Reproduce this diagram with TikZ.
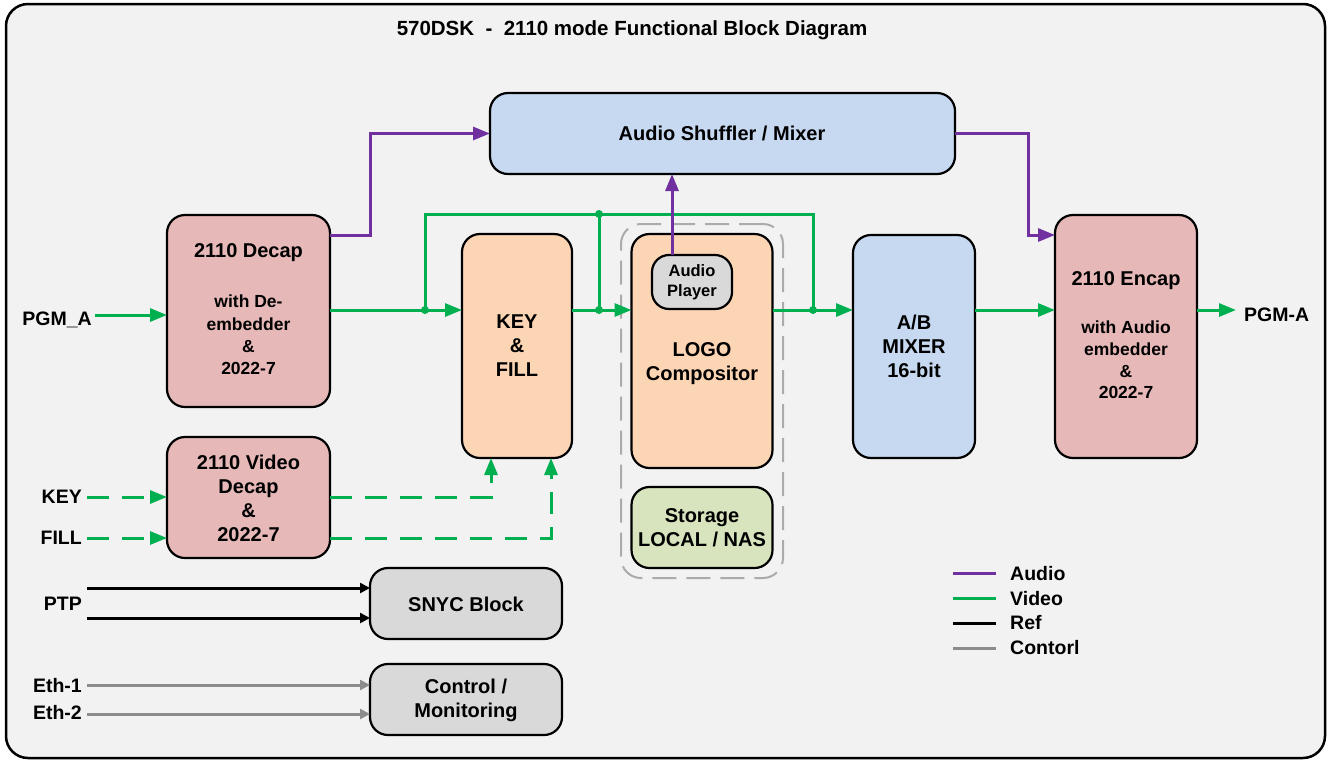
\documentclass[tikz,border=0pt]{standalone}
\usepackage{fontspec}
\setmainfont{Liberation Sans}
\usetikzlibrary{arrows.meta}
\definecolor{bg}{HTML}{F2F2F2}
\definecolor{vgreen}{HTML}{00B050}
\definecolor{apurple}{HTML}{7030A0}
\definecolor{ctrlgray}{HTML}{8C8C8C}
\definecolor{decapfill}{HTML}{E6B9B8}
\definecolor{peachfill}{HTML}{FCD5B5}
\definecolor{bluefill}{HTML}{C6D9F1}
\definecolor{greenfill}{HTML}{D7E4BD}
\definecolor{grayfill}{HTML}{D9D9D9}
\definecolor{grpgray}{HTML}{ABABAB}
\tikzset{
  box/.style={draw=black, line width=2.2pt, rounded corners=18pt, inner sep=0pt, outer sep=0pt},
  tbig/.style={font=\fontsize{20}{24}\selectfont\bfseries, align=center, inner sep=0pt},
  tsmall/.style={font=\fontsize{17.5}{22.3}\selectfont\bfseries, align=center, inner sep=0pt},
  tlab/.style={font=\fontsize{19.5}{22}\selectfont\bfseries, inner sep=0pt},
  video/.style={draw=vgreen, line width=3pt},
  vdash/.style={video, dash pattern=on 22pt off 13pt},
  audio/.style={draw=apurple, line width=3pt},
  refl/.style={draw=black, line width=3pt},
  ctrl/.style={draw=ctrlgray, line width=3pt},
  garrow/.style={-{Triangle[length=17pt,width=13pt]}},
  sarrow/.style={-{Triangle[length=10pt,width=10pt]}},
  dot/.style={circle, fill=vgreen, inner sep=0pt, minimum size=8pt},
}
\begin{document}
\begin{tikzpicture}[x=1pt,y=-1pt]
\useasboundingbox (0,0) rectangle (1327,761);
\draw[line width=2.5pt, fill=bg, rounded corners=22pt] (6,4) rectangle (1325,758);

\node[tbig, font=\fontsize{20.5}{24}\selectfont\bfseries] (title) at (632,30) {570DSK\ \ -\ \ 2110 mode Functional Block Diagram};

% dashed group
\node[draw=grpgray, line width=2pt, dash pattern=on 24pt off 10pt, rounded corners=20pt, minimum width=162pt, minimum height=354pt, inner sep=0pt] (grp) at (702,401) {};

% boxes
\node[box, fill=bluefill, minimum width=465pt, minimum height=81pt] (shuf) at (722.5,133.5) {};
\node[tbig] (shufT) at (722,133) {Audio Shuffler / Mixer};

\node[box, fill=decapfill, minimum width=163pt, minimum height=192pt] (decap) at (248.5,311) {};
\node[tbig] (decapT) at (248.5,253) {2110 Decap};
\node[tsmall] (decapS) at (248.5,335) {with De-\\embedder\\\&\\2022-7};

\node[box, fill=decapfill, minimum width=163pt, minimum height=121pt] (vdec) at (248.5,497.5) {};
\node[tbig] (vdecT) at (248.5,498) {2110 Video\\Decap\\\&\\2022-7};

\node[box, fill=peachfill, minimum width=110pt, minimum height=224pt] (kf) at (517,346) {};
\node[tbig] (kfT) at (517,346) {KEY\\\&\\FILL};

\node[box, fill=peachfill, minimum width=141pt, minimum height=234pt] (logo) at (702,351) {};
\node[tbig] (logoT) at (702,364) {LOGO\\Compositor};

\node[box, fill=grayfill, minimum width=80pt, minimum height=54pt, rounded corners=17pt] (ap) at (692,282) {};
\node[font=\fontsize{16.5}{20}\selectfont\bfseries, align=center, inner sep=0pt] (apT) at (692,282) {Audio\\Player};

\node[box, fill=greenfill, minimum width=141pt, minimum height=81pt] (stor) at (702,527.5) {};
\node[tbig] (storT) at (702,528) {Storage\\LOCAL / NAS};

\node[box, fill=bluefill, minimum width=122pt, minimum height=223pt] (mix) at (914,346.5) {};
\node[tbig] (mixT) at (914,346) {A/B\\MIXER\\16-bit};

\node[box, fill=decapfill, minimum width=142pt, minimum height=243pt] (encap) at (1126,336.5) {};
\node[tbig] (encapT) at (1126,281) {2110 Encap};
\node[tsmall, font=\fontsize{17.5}{21.7}\selectfont\bfseries] (encapS) at (1126,360) {with Audio\\embedder\\\&\\2022-7};

\node[box, fill=grayfill, minimum width=192pt, minimum height=71pt] (sync) at (466,603.5) {};
\node[tbig] (syncT) at (466,604) {SNYC Block};

\node[box, fill=grayfill, minimum width=192pt, minimum height=71pt] (ctl) at (466,699.5) {};
\node[tbig] (ctlT) at (466,700) {Control /\\Monitoring};

% outer labels
\node[tlab, anchor=east] (pgmaL) at (92,320) {PGM\_A};
\node[tlab, anchor=east] (keyL) at (82,497) {KEY};
\node[tlab, anchor=east] (fillL) at (82,538) {FILL};
\node[tlab, anchor=east] (ptpL) at (82,604) {PTP};
\node[tlab, anchor=east] (eth1L) at (82,686) {Eth-1};
\node[tlab, anchor=east] (eth2L) at (82,713) {Eth-2};
\node[tlab, anchor=west] (pgmoL) at (1244,315) {PGM-A};

% coordinates
\coordinate (row) at (0,310);
\coordinate (pgmin) at (95,315);
\coordinate (pgmout) at (1236,310);
\coordinate (j1) at (425,310);
\coordinate (j2) at (599,310);
\coordinate (j3) at (813,310);
\coordinate (t2) at (599,214);
\coordinate (keyin) at (87,497);
\coordinate (fillin) at (87,538);
\coordinate (ptp1) at (87,588);
\coordinate (ptp2) at (87,618);
\coordinate (eth1) at (87,685);
\coordinate (eth2) at (87,714);

% video
\draw[video, garrow] (pgmin) -- (pgmin -| decap.west);
\draw[video, garrow] (decap.east |- row) -- (kf.west |- row);
\draw[video] (j1) |- (t2) -| (j3);
\draw[video] (t2) -- (j2);
\draw[video, garrow] (kf.east |- row) -- (logo.west |- row);
\draw[video, garrow] (logo.east |- row) -- (mix.west |- row);
\draw[video, garrow] (mix.east |- row) -- (encap.west |- row);
\draw[video, garrow] (encap.east |- row) -- (pgmout);
\node[dot] (d1) at (j1) {};
\node[dot] (d2) at (j2) {};
\node[dot] (d3) at (j3) {};
\node[dot] (d4) at (t2) {};

% dashed video
\draw[vdash, garrow] (keyin) -- (keyin -| vdec.west);
\draw[vdash, garrow] (fillin) -- (fillin -| vdec.west);
\draw[vdash, garrow] (vdec.east |- keyin) -| ([xshift=-26pt]kf.south);
\draw[vdash, garrow] (vdec.east |- fillin) -| ([xshift=34pt]kf.south);

% audio
\draw[audio, garrow] ([yshift=76pt]decap.east) -- ++(40,0) |- (shuf.west);
\draw[audio, garrow] (shuf.east) -- ++(73,0) |- ([yshift=101.5pt]encap.west);
\draw[audio, garrow] ([xshift=-20pt]ap.north) -- ([xshift=-20pt]ap.north |- shuf.south);

% ref / control
\draw[refl, sarrow] (ptp1) -- (ptp1 -| sync.west);
\draw[refl, sarrow] (ptp2) -- (ptp2 -| sync.west);
\draw[ctrl, sarrow] (eth1) -- (eth1 -| ctl.west);
\draw[ctrl, sarrow] (eth2) -- (eth2 -| ctl.west);

% legend
\coordinate (lg1) at (953,573);
\coordinate (lg2) at (953,598);
\coordinate (lg3) at (953,623);
\coordinate (lg4) at (953,648);
\draw[audio] (lg1) -- ++(43,0);
\draw[video] (lg2) -- ++(43,0);
\draw[refl] (lg3) -- ++(43,0);
\draw[ctrl] (lg4) -- ++(43,0);
\node[tlab, anchor=west] (lgA) at (1010,574) {Audio};
\node[tlab, anchor=west] (lgV) at (1010,599) {Video};
\node[tlab, anchor=west] (lgR) at (1010,623) {Ref};
\node[tlab, anchor=west] (lgC) at (1010,648) {Contorl};
\end{tikzpicture}
\end{document}
